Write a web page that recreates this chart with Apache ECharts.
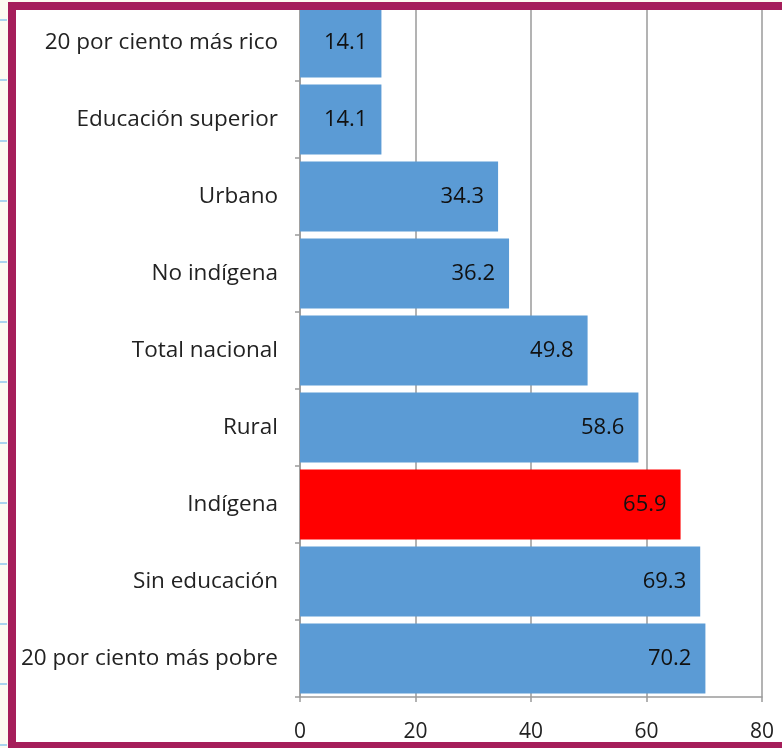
<!DOCTYPE html>
<html>
<head>
<meta charset="utf-8">
<script src="https://cdn.jsdelivr.net/npm/echarts@6/dist/echarts.min.js"></script>
<style>
  html, body { margin: 0; padding: 0; background: #fcfbf1; overflow: hidden; }
  #stage { position: relative; width: 782px; height: 748px; overflow: hidden; }
  .rule { position: absolute; left: 0; width: 7px; height: 2px; background: #a9d5ee; }
  #paper {
    position: absolute; left: 8px; top: 2px; width: 800px; height: 748px;
    background: #fff;
  }
  #frame {
    position: absolute; left: 8px; top: 2px; width: 800px; height: 748px;
    box-sizing: border-box;
    border: 8px solid #a51e5a; border-right: none;
    pointer-events: none;
  }
  #chart { position: absolute; left: 0; top: 0; width: 782px; height: 748px; }
</style>
</head>
<body>
<div id="stage">
  <div id="paper"></div>
  <div id="chart"></div>
  <div id="frame"></div>
</div>
<script>
// Categories listed top to bottom, with their percentages
const categories = [
  '20 por ciento más rico',
  'Educación superior',
  'Urbano',
  'No indígena',
  'Total nacional',
  'Rural',
  'Indígena',
  'Sin educación',
  '20 por ciento más pobre'
];
const values = [14.1, 14.1, 34.3, 36.2, 49.8, 58.6, 65.9, 69.3, 70.2];
const highlighted = 'Indígena';
const xTicks = [0, 20, 40, 60, 80];

// sheet gridline marks peeking out at the left edge
const stage = document.getElementById('stage');
for (let y = 19; y < 748; y += 60.4) {
  const d = document.createElement('div');
  d.className = 'rule';
  d.style.top = Math.round(y) + 'px';
  stage.insertBefore(d, stage.firstChild);
}

const FONT = '"Open Sans", "DejaVu Sans", sans-serif';
const BLUE = '#5b9bd5';
const RED = '#ff0000';
const AXIS_GREY = '#9a9a9a';

const chart = echarts.init(document.getElementById('chart'), null, { renderer: 'canvas' });
chart.setOption({
  backgroundColor: 'transparent',
  animation: false,
  grid: { left: 300, right: 20, top: 4, bottom: 51, containLabel: false },
  xAxis: {
    type: 'value',
    min: xTicks[0],
    max: xTicks[xTicks.length - 1],
    interval: xTicks[1] - xTicks[0],
    axisLine: { show: true, lineStyle: { color: AXIS_GREY, width: 1.5 } },
    axisTick: { show: true, length: 5, lineStyle: { color: AXIS_GREY, width: 1.5 } },
    axisLabel: { margin: 25, color: '#222', fontSize: 21, fontFamily: FONT },
    splitLine: { show: true, lineStyle: { color: AXIS_GREY, width: 1.5 } }
  },
  yAxis: {
    type: 'category',
    data: categories,
    inverse: true,
    axisLine: { show: true, lineStyle: { color: AXIS_GREY, width: 1.5 } },
    axisTick: { show: true, length: 5, lineStyle: { color: AXIS_GREY, width: 1.5 } },
    axisLabel: { margin: 22, color: '#222', fontSize: 22.5, fontFamily: FONT }
  },
  series: [{
    type: 'bar',
    barCategoryGap: '9%',
    data: values.map((v, i) => ({
      value: v,
      itemStyle: { color: categories[i] === highlighted ? RED : BLUE }
    })),
    label: {
      show: true,
      position: 'insideRight',
      distance: 14,
      color: '#111',
      fontSize: 22,
      fontFamily: FONT,
      formatter: p => p.value.toFixed(1)
    }
  }]
});
</script>
</body>
</html>
